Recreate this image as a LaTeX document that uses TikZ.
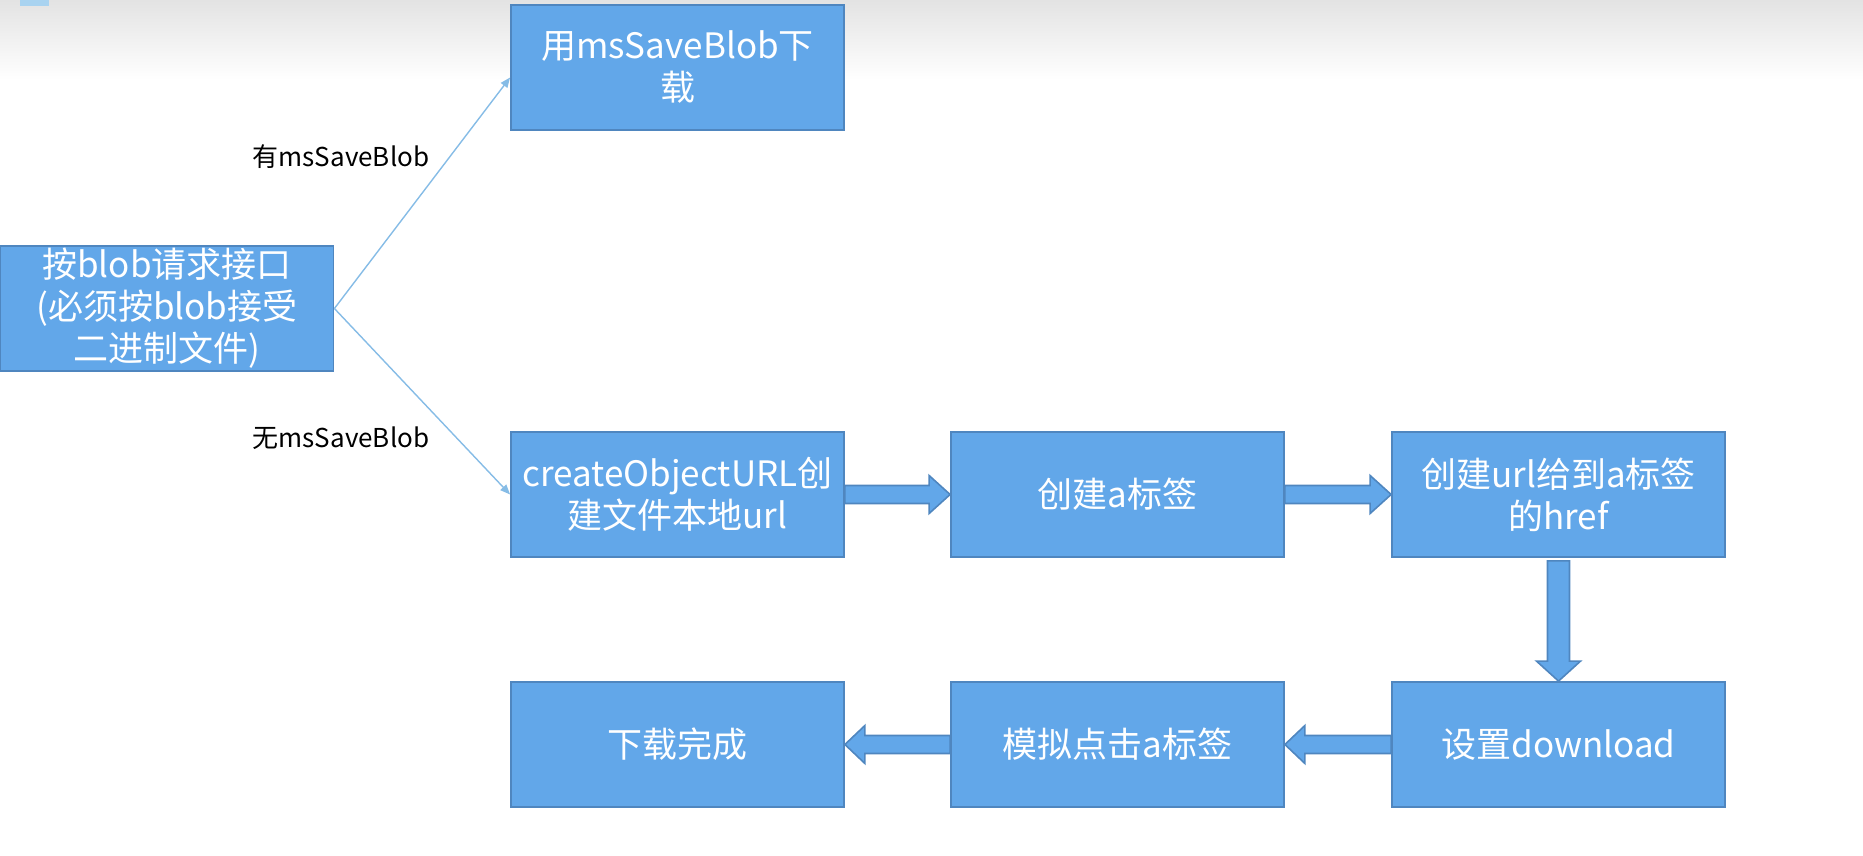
\documentclass[tikz,border=0pt]{standalone}
\usepackage{fontspec}
\setmainfont{Noto Sans CJK SC}
\usepackage{tikz}
\usetikzlibrary{arrows.meta, calc}

\definecolor{boxblue}{HTML}{62A7E9}
\definecolor{boxedge}{HTML}{4F86BF}
\definecolor{linkblue}{HTML}{86BCE6}
\definecolor{sqblue}{HTML}{A9D3F0}

% 粗箭头 (块状)
\newcommand{\fatright}[2]{\draw[fat] let \p1=(#1.east), \p2=(#2.west) in
  (\x1,\y1+4.5pt) -- (\x2-10.5pt,\y1+4.5pt) -- (\x2-10.5pt,\y1+9.5pt) -- (\x2,\y1)
  -- (\x2-10.5pt,\y1-9.5pt) -- (\x2-10.5pt,\y1-4.5pt) -- (\x1,\y1-4.5pt) -- cycle;}
\newcommand{\fatleft}[2]{\draw[fat] let \p1=(#1.west), \p2=(#2.east) in
  (\x1,\y1+4.5pt) -- (\x2+10pt,\y1+4.5pt) -- (\x2+10pt,\y1+9.5pt) -- (\x2,\y1)
  -- (\x2+10pt,\y1-9.5pt) -- (\x2+10pt,\y1-4.5pt) -- (\x1,\y1-4.5pt) -- cycle;}
\newcommand{\fatdown}[2]{\draw[fat] let \p1=(#1.south), \p2=(#2.north) in
  (\x1-5.5pt,\y1-1.5pt) -- (\x1-5.5pt,\y2+10pt) -- (\x1-11pt,\y2+10pt) -- (\x1,\y2)
  -- (\x1+11pt,\y2+10pt) -- (\x1+5.5pt,\y2+10pt) -- (\x1+5.5pt,\y1-1.5pt) -- cycle;}

\begin{document}
\begin{tikzpicture}[x=0.5pt, y=-0.5pt,
    stepbox/.style={draw=boxedge, fill=boxblue, line width=0.9pt, minimum width=166.5pt,
      minimum height=62.5pt, inner sep=0pt, align=center, text=white,
      font=\fontsize{17.5}{21}\selectfont},
    fat/.style={draw=boxedge, fill=boxblue, line width=0.8pt},
    branch/.style={draw=linkblue, line width=0.7pt, -{Triangle[length=5pt, width=4pt]}},
    lbl/.style={font=\fontsize{13}{15}\selectfont}]
  \useasboundingbox (0,0) rectangle (1863,856);
  
  % 背景
  \shade[top color=black!11, bottom color=white] (0,0) rectangle (1863,80);
  \fill[sqblue] (20,0) rectangle (49,6);
  
  % 步骤
  \node[stepbox] (blob) at (167,308.5) {按blob请求接口\\(必须按blob接受\\二进制文件)};
  \node[stepbox] (save) at (677.5,67.5) {用msSaveBlob下\\载};
  \node[stepbox] (objurl) at (677.5,494.5) {createObjectURL创\\建文件本地url};
  \node[stepbox] (taga) at (1117.5,494.5) {创建a标签};
  \node[stepbox] (href) at (1558.5,494.5) {创建url给到a标签\\的href};
  \node[stepbox] (dl) at (1558.5,744.5) {设置download};
  \node[stepbox] (click) at (1117.5,744.5) {模拟点击a标签};
  \node[stepbox] (done) at (677.5,744.5) {下载完成};
  
  % 分支
  \draw[branch] (blob.east) -- ([yshift=-5pt]save.west);
  \draw[branch] (blob.east) -- (objurl.west);
  \node[lbl] (has) at (341,157) {有msSaveBlob};
  \node[lbl] (hasnot) at (341,438) {无msSaveBlob};
  
  % 流程
  \fatright{objurl}{taga}
  \fatright{taga}{href}
  \fatdown{href}{dl}
  \fatleft{dl}{click}
  \fatleft{click}{done}
\end{tikzpicture}
\end{document}
